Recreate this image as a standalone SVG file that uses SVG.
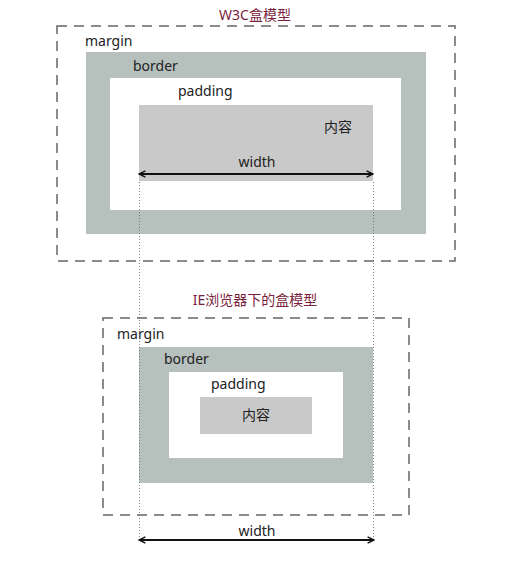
<svg xmlns="http://www.w3.org/2000/svg" width="509" height="561" viewBox="0 0 509 561">
<defs>
<marker id="ah" viewBox="0 0 10 10" refX="9" refY="5" markerWidth="8" markerHeight="8" orient="auto-start-reverse" markerUnits="userSpaceOnUse">
<path d="M1,1 L9,5 L1,9" fill="none" stroke="#111" stroke-width="1.8"/>
</marker>
</defs>
<style>
text{font-family:"Noto Sans","Noto Sans CJK SC",sans-serif;font-size:14px;fill:#222}
.title{fill:#7a1f3d;font-size:14px}
.margin{fill:none;stroke:#666;stroke-width:1.5;stroke-dasharray:10 7}
.border{fill:#b6c0bc}
.padding{fill:#fff}
.content{fill:#c9c9c9}
.dot{stroke:#666;stroke-width:0.8;stroke-dasharray:1 2;fill:none}
.arrow{stroke:#111;stroke-width:1.8;fill:none}
</style>
<rect width="509" height="561" fill="#fff"/>
<g id="w3c">
<text class="title" x="255" y="20" text-anchor="middle">W3C盒模型</text>
<g id="w3c-margin"><rect class="margin" x="57" y="26" width="398" height="235"/><text x="85" y="46">margin</text></g>
<g id="w3c-border"><rect class="border" x="86" y="52" width="340" height="182"/><text x="133" y="71">border</text></g>
<g id="w3c-padding"><rect class="padding" x="110" y="78" width="291" height="132"/><text x="178" y="96">padding</text></g>
<g id="w3c-content"><rect class="content" x="139" y="105" width="234" height="76"/><text x="338" y="132" text-anchor="middle">内容</text><text x="257" y="167" text-anchor="middle">width</text></g>
</g>
<g id="ie">
<text class="title" x="255" y="305" text-anchor="middle">IE浏览器下的盒模型</text>
<g id="ie-margin"><rect class="margin" x="103" y="318" width="306" height="197"/><text x="117" y="339">margin</text></g>
<g id="ie-border"><rect class="border" x="139" y="347" width="234" height="136"/><text x="164" y="364">border</text></g>
<g id="ie-padding"><rect class="padding" x="169" y="372" width="174" height="86"/><text x="211" y="389">padding</text></g>
<g id="ie-content"><rect class="content" x="200" y="397" width="112" height="37"/><text x="256" y="420" text-anchor="middle">内容</text></g>
<text x="257" y="536" text-anchor="middle">width</text>
</g>
<g id="connectors">
<line class="dot" x1="139.5" y1="182" x2="139.5" y2="540"/>
<line class="dot" x1="373.5" y1="182" x2="373.5" y2="540"/>
<line class="arrow" x1="139" y1="174" x2="373" y2="174" marker-start="url(#ah)" marker-end="url(#ah)"/>
<line class="arrow" x1="139" y1="540" x2="374" y2="540" marker-start="url(#ah)" marker-end="url(#ah)"/>
</g>
</svg>
